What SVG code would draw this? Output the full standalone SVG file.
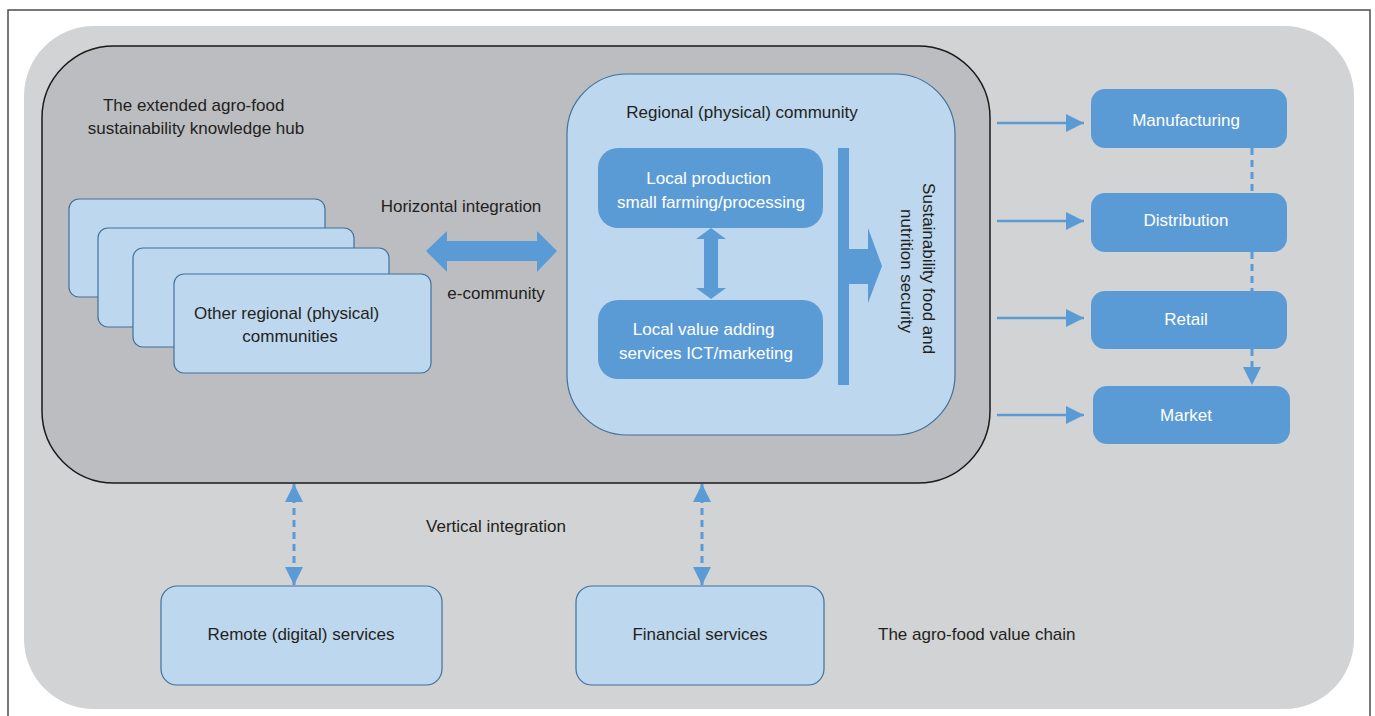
<svg xmlns="http://www.w3.org/2000/svg" width="1375" height="716" viewBox="0 0 1375 716">
  <defs>
    <style>
      .lbl { font-family: "Liberation Sans", Arial, sans-serif; font-size: 17px; fill: #231f20; }
      .wlbl { font-family: "Liberation Sans", Arial, sans-serif; font-size: 17px; fill: #ffffff; }
      .pale { fill: #bdd7ee; stroke: #41719c; stroke-width: 1.2; }
      .solid { fill: #5b9bd5; }
      .link { stroke: #5b9bd5; stroke-width: 2.6; fill: none; }
      .dash { stroke: #5b9bd5; stroke-width: 3; fill: none; stroke-dasharray: 7 5; }
    </style>
    <marker id="tri" viewBox="0 0 10 10" refX="10" refY="5" markerWidth="18" markerHeight="20" markerUnits="userSpaceOnUse" orient="auto-start-reverse">
      <path d="M0,0 L10,5 L0,10 Z" fill="#5b9bd5"/>
    </marker>
  </defs>

  <!-- page frame -->
  <path d="M8,716 L8,10 L1370,10 L1370,716" fill="none" stroke="#4d4d4d" stroke-width="1.5"/>

  <!-- value chain background -->
  <rect id="value-chain" x="24" y="26" width="1330" height="683" rx="70" ry="70" fill="#d1d3d4"/>

  <!-- knowledge hub -->
  <g id="hub">
    <rect x="42" y="46" width="948" height="437" rx="72" ry="72" fill="#bcbdc0" stroke="#1a1a1a" stroke-width="1.5"/>
    <text class="lbl" text-anchor="middle">
      <tspan x="196" y="111">The extended agro-food</tspan>
      <tspan x="196" y="134">sustainability knowledge hub</tspan>
    </text>
  </g>

  <!-- stacked other communities -->
  <g id="other-communities">
    <rect class="pale" x="69" y="199" width="256" height="98" rx="10"/>
    <rect class="pale" x="98" y="228" width="256" height="99" rx="10"/>
    <rect class="pale" x="133" y="248" width="256" height="99" rx="10"/>
    <rect class="pale" x="174" y="274" width="257" height="99" rx="10"/>
    <text class="lbl" text-anchor="middle">
      <tspan x="289" y="319">Other regional (physical)</tspan>
      <tspan x="290" y="342">communities</tspan>
    </text>
  </g>

  <!-- regional community -->
  <g id="regional-community">
    <rect class="pale" x="567" y="74" width="388" height="361" rx="60"/>
    <text class="lbl" x="742" y="118" text-anchor="middle">Regional (physical) community</text>
  </g>

  <g id="local-production">
    <rect class="solid" x="598" y="148" width="225" height="80" rx="20"/>
    <text class="wlbl" text-anchor="middle">
      <tspan x="711" y="184">Local production</tspan>
      <tspan x="711" y="208">small farming/processing</tspan>
    </text>
  </g>

  <g id="local-value-adding">
    <rect class="solid" x="598" y="300" width="225" height="79" rx="20"/>
    <text class="wlbl" text-anchor="middle">
      <tspan x="706" y="335">Local value adding</tspan>
      <tspan x="706" y="359">services ICT/marketing</tspan>
    </text>
  </g>

  <g id="food-security">
    <rect class="solid" x="838" y="148" width="11" height="237"/>
    <path class="solid" d="M849,249 L868,249 L868,228 L882,266 L868,303 L868,284 L849,284 Z"/>
    <text class="lbl" text-anchor="middle" transform="translate(918,271) rotate(90)">
      <tspan x="0" y="-5">Sustainability food and</tspan>
      <tspan x="0" y="17">nutrition security</tspan>
    </text>
  </g>

  <!-- value chain stages -->
  <g id="manufacturing">
    <rect class="solid" x="1091" y="89" width="196" height="59" rx="14"/>
    <text class="wlbl" x="1186" y="126" text-anchor="middle">Manufacturing</text>
  </g>
  <g id="distribution">
    <rect class="solid" x="1091" y="193" width="196" height="59" rx="14"/>
    <text class="wlbl" x="1186" y="226" text-anchor="middle">Distribution</text>
  </g>
  <g id="retail">
    <rect class="solid" x="1091" y="291" width="196" height="58" rx="14"/>
    <text class="wlbl" x="1186" y="325" text-anchor="middle">Retail</text>
  </g>
  <g id="market">
    <rect class="solid" x="1093" y="386" width="197" height="58" rx="14"/>
    <text class="wlbl" x="1186" y="421" text-anchor="middle">Market</text>
  </g>

  <!-- services -->
  <g id="remote-services">
    <rect class="pale" x="161" y="586" width="281" height="99" rx="16"/>
    <text class="lbl" x="301" y="640" text-anchor="middle">Remote (digital) services</text>
  </g>
  <g id="financial-services">
    <rect class="pale" x="576" y="586" width="248" height="99" rx="16"/>
    <text class="lbl" x="700" y="640" text-anchor="middle">Financial services</text>
  </g>

  <!-- free labels -->
  <text class="lbl" x="461" y="212" text-anchor="middle">Horizontal integration</text>
  <text class="lbl" x="496" y="299" text-anchor="middle">e-community</text>
  <text class="lbl" x="496" y="532" text-anchor="middle">Vertical integration</text>
  <text class="lbl" x="878" y="640">The agro-food value chain</text>

  <!-- connectors -->
  <g id="connectors">
    <!-- horizontal integration (block double arrow) -->
    <path class="solid" d="M426,251 L447,231 L447,241 L537,241 L537,231 L557,251 L537,272 L537,261 L447,261 L447,272 Z"/>
    <!-- production <-> value adding (block double arrow) -->
    <path class="solid" d="M711,228 L726,239 L718,239 L718,288 L726,288 L711,299 L696,288 L704,288 L704,239 L696,239 Z"/>

    <!-- hub to value chain stages -->
    <line class="link" x1="997" y1="123" x2="1084" y2="123" marker-end="url(#tri)"/>
    <line class="link" x1="997" y1="221" x2="1084" y2="221" marker-end="url(#tri)"/>
    <line class="link" x1="997" y1="318" x2="1084" y2="318" marker-end="url(#tri)"/>
    <line class="link" x1="997" y1="415" x2="1084" y2="415" marker-end="url(#tri)"/>

    <!-- flow down the chain -->
    <line class="dash" x1="1252" y1="148" x2="1252" y2="193"/>
    <line class="dash" x1="1252" y1="252" x2="1252" y2="291"/>
    <line class="dash" x1="1252" y1="349" x2="1252" y2="385" marker-end="url(#tri)"/>

    <!-- vertical integration -->
    <line class="dash" x1="294" y1="484" x2="294" y2="585" marker-start="url(#tri)" marker-end="url(#tri)"/>
    <line class="dash" x1="702" y1="484" x2="702" y2="585" marker-start="url(#tri)" marker-end="url(#tri)"/>
  </g>
</svg>
